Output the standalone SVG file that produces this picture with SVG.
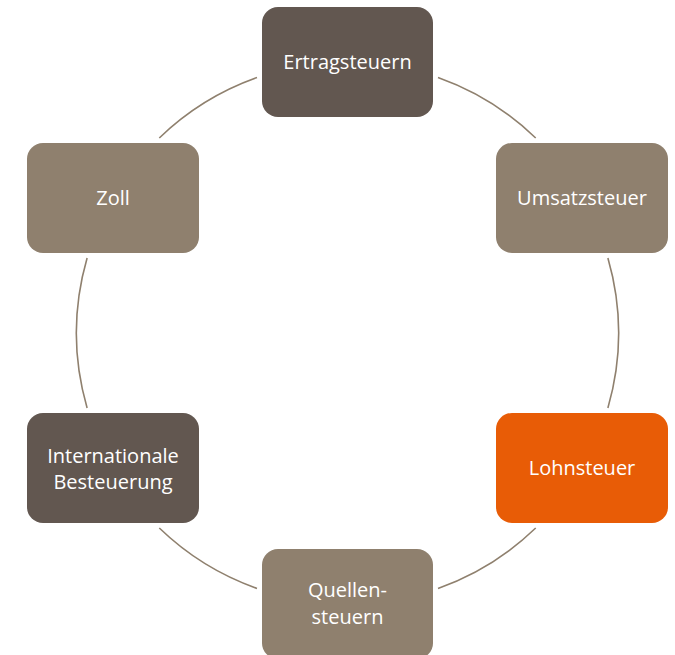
<svg xmlns="http://www.w3.org/2000/svg" width="675" height="655" viewBox="0 0 675 655">
<style>
.dark{fill:#625750}
.light{fill:#8F806E}
.accent{fill:#E85C06}
.lbl{font-family:"Open Sans","Liberation Sans",sans-serif;font-size:20px;fill:#FFFFFF;text-anchor:middle}
.arc{fill:none;stroke:#8F806E;stroke-width:1.6}
</style>
<rect width="675" height="655" fill="#FFFFFF"/>
<g id="connectors">
<path class="arc" d="M438,77.6 A271,271 0 0 1 535.7,138"/>
<path class="arc" d="M607.9,258 A271,271 0 0 1 607.9,408"/>
<path class="arc" d="M535.7,528 A271,271 0 0 1 438,588.4"/>
<path class="arc" d="M257,588.4 A271,271 0 0 1 159.3,528"/>
<path class="arc" d="M87.1,408 A271,271 0 0 1 87.1,258"/>
<path class="arc" d="M159.3,138 A271,271 0 0 1 257,77.6"/>
</g>
<g id="ertragsteuern">
<rect class="dark" x="262" y="7" width="171" height="110" rx="16"/>
<text class="lbl" x="347.5" y="69">Ertragsteuern</text>
</g>
<g id="umsatzsteuer">
<rect class="light" x="496" y="143" width="172" height="110" rx="16"/>
<text class="lbl" x="582" y="205">Umsatzsteuer</text>
</g>
<g id="lohnsteuer">
<rect class="accent" x="496" y="413" width="172" height="110" rx="16"/>
<text class="lbl" x="582" y="475">Lohnsteuer</text>
</g>
<g id="quellensteuern">
<rect class="light" x="262" y="549" width="171" height="110" rx="16"/>
<text class="lbl" x="347.5" y="597">Quellen-</text>
<text class="lbl" x="347.5" y="624">steuern</text>
</g>
<g id="internationale-besteuerung">
<rect class="dark" x="27" y="413" width="172" height="110" rx="16"/>
<text class="lbl" x="113" y="463">Internationale</text>
<text class="lbl" x="113" y="489">Besteuerung</text>
</g>
<g id="zoll">
<rect class="light" x="27" y="143" width="172" height="110" rx="16"/>
<text class="lbl" x="113" y="205">Zoll</text>
</g>
</svg>
